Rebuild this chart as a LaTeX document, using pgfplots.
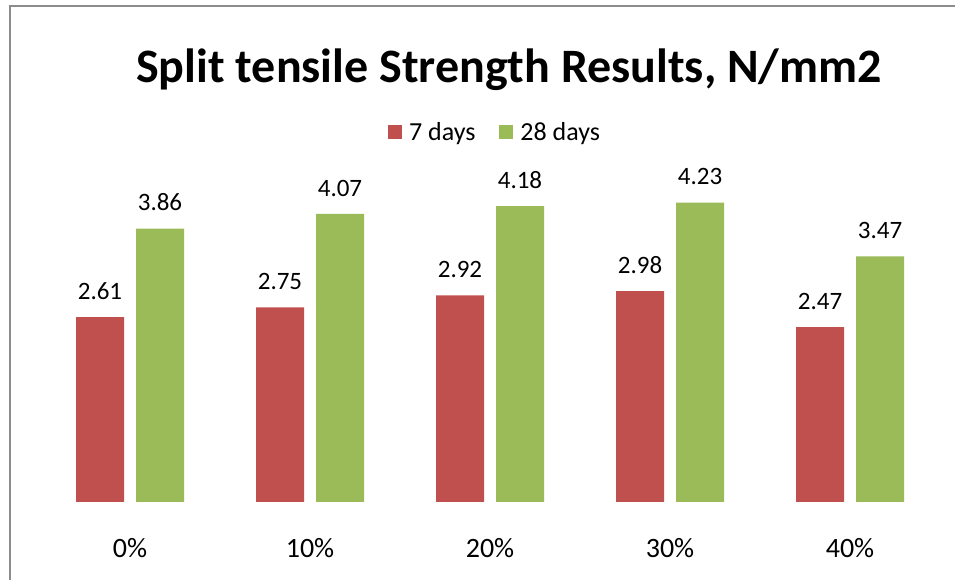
\documentclass[border=0pt]{standalone}
\usepackage{pgfplots}
\pgfplotsset{compat=1.18}
\usepackage{fontspec}
\setmainfont{Carlito}
\definecolor{c7}{HTML}{C0504D}
\definecolor{c28}{HTML}{9BBB59}
\begin{document}
\begin{tikzpicture}[x=1bp,y=1bp]
\path[use as bounding box] (0,0) rectangle (955,580);
\draw[color=gray!90, line width=1.5bp] (10,0) -- (10,574) -- (956,574);
\node[font=\fontsize{48bp}{54bp}\selectfont\bfseries] at (509,510) {Split tensile Strength Results, N/mm2};
\begin{axis}[
  at={(40bp,78bp)}, anchor=south west,
  scale only axis, width=900bp, height=354bp,
  xmin=-0.5, xmax=4.5, ymin=0, ymax=5,
  axis line style={draw=none},
  ytick=\empty,
  xtick=data, xticklabels={0\%,10\%,20\%,30\%,40\%},
  major tick length=0,
  xticklabel style={font=\fontsize{28bp}{32bp}\selectfont, yshift=-33bp},
  ybar, bar width=48bp,
  nodes near coords,
  every node near coord/.append style={font=\fontsize{25bp}{29bp}\selectfont, yshift=14bp, text=black},
  nodes near coords style={/pgf/number format/.cd, fixed, fixed zerofill, precision=2, assume math mode=true},
  legend style={at={(0.5056,1.045)}, anchor=center, draw=none, legend columns=2, font=\fontsize{26bp}{30bp}\selectfont,
    /tikz/every odd column/.append style={column sep=5bp},
    /tikz/every even column/.append style={column sep=22bp}},
  legend image code/.code={\fill[#1] (0bp,-7bp) rectangle (14bp,7bp);},
]
\addplot[fill=c7, draw=none, bar shift=-30bp] coordinates {(0,2.61) (1,2.75) (2,2.92) (3,2.98) (4,2.47)};
\addplot[fill=c28, draw=none, bar shift=30bp] coordinates {(0,3.86) (1,4.07) (2,4.18) (3,4.23) (4,3.47)};
\legend{7 days, 28 days}
\end{axis}
\end{tikzpicture}
\end{document}
